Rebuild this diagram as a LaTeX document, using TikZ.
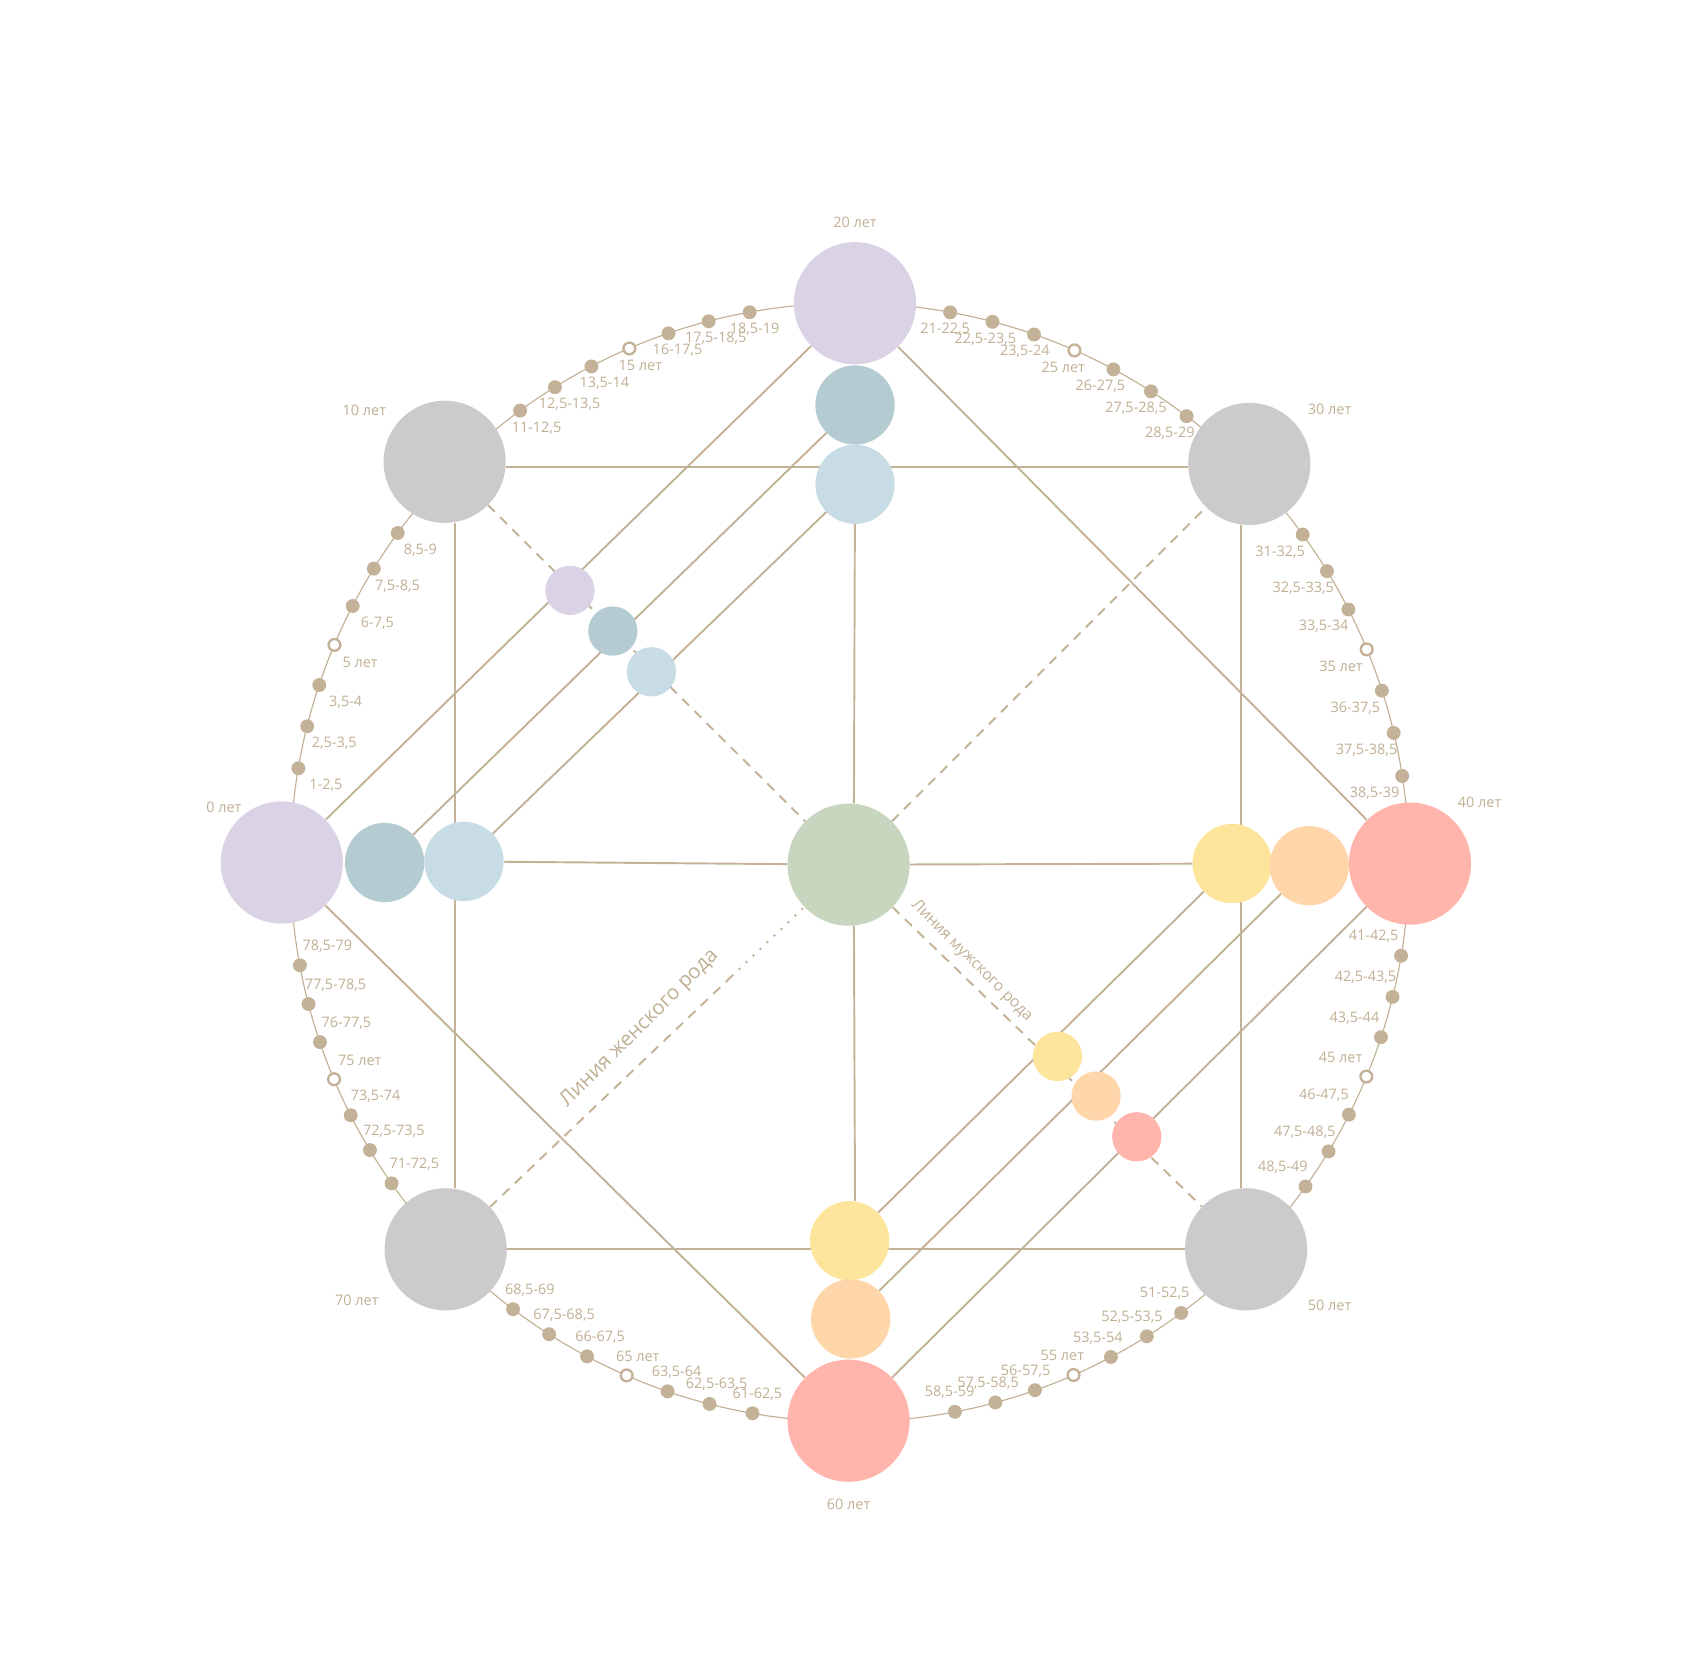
\documentclass[tikz,border=0pt]{standalone}
\usepackage{fontspec}
\setmainfont{Open Sans}
\usetikzlibrary{positioning, calc}
\definecolor{tanline}{RGB}{196,178,152}
\definecolor{tantext}{RGB}{192,175,148}
\definecolor{lavender}{RGB}{218,210,229}
\definecolor{teal}{RGB}{180,203,209}
\definecolor{lightblue}{RGB}{200,220,230}
\definecolor{greyc}{RGB}{203,203,203}
\definecolor{sage}{RGB}{200,214,192}
\definecolor{yellowc}{RGB}{254,229,156}
\definecolor{peach}{RGB}{254,214,170}
\definecolor{salmon}{RGB}{255,180,172}
\pgfdeclarelayer{back}
\pgfsetlayers{back,main}

\begin{document}
\begin{tikzpicture}[x=1pt, y=-1pt,
    bigc/.style={circle, minimum size=114pt, inner sep=0pt},
    midc/.style={circle, minimum size=74pt, inner sep=0pt},
    smallc/.style={circle, minimum size=46pt, inner sep=0pt},
    agedot/.style={circle, fill=tanline, minimum size=13pt, inner sep=0pt},
    ring/.style={circle, draw=tanline, line width=2.2pt, fill=white, minimum size=11pt, inner sep=0pt},
    agetext/.style={text=tantext, font=\fontsize{13.5}{15}\selectfont, inner sep=0pt},
    link/.style={draw=tanline, line width=1.8pt},
    lineage/.style={draw=tanline, line width=1.8pt, dash pattern=on 9pt off 7pt}
]
\useasboundingbox (0,0) rectangle (1568,1568);

% centre of the age circle
\coordinate (M) at (793,805);

% big circles
\node[bigc, fill=lavender] (A) at (263,805) {};
\node[bigc, fill=lavender] (B) at (798,283) {};
\node[bigc, fill=salmon] (C) at (1316,806) {};
\node[bigc, fill=salmon] (D) at (792,1326) {};
\node[bigc, fill=greyc] (E) at (415,431) {};
\node[bigc, fill=greyc] (F) at (1166,433) {};
\node[bigc, fill=greyc] (G) at (1163,1166) {};
\node[bigc, fill=greyc] (H) at (416,1166) {};
\node[bigc, fill=sage] (O) at (792,807) {};

% middle circles
\node[midc, fill=teal] (Lt) at (359,805) {};
\node[midc, fill=lightblue] (Lb) at (433,804) {};
\node[midc, fill=teal] (Tt) at (798,378) {};
\node[midc, fill=lightblue] (Tb) at (798,452) {};
\node[midc, fill=yellowc] (Ry) at (1150,806) {};
\node[midc, fill=peach] (Rp) at (1222,808) {};
\node[midc, fill=yellowc] (By) at (793,1158) {};
\node[midc, fill=peach] (Bp) at (794,1231) {};

% small circles on the lineage lines
\node[smallc, fill=lavender] (s1) at (532,551) {};
\node[smallc, fill=teal] (s2) at (572,589) {};
\node[smallc, fill=lightblue] (s3) at (608,627) {};
\node[smallc, fill=yellowc] (s4) at (987,986) {};
\node[smallc, fill=peach] (s5) at (1023,1023) {};
\node[smallc, fill=salmon] (s6) at (1061,1061) {};

% years at the big circles
\node[agetext, above left=6pt and -3pt of A] (a0) {0 лет};
\node[agetext, above left=2pt and 14pt of E] (a10) {10 лет};
\node[agetext, above=13pt of B] (a20) {20 лет};
\node[agetext, above right=5pt and 14pt of F] (a30) {30 лет};
\node[agetext, above right=12pt and 4pt of C] (a40) {40 лет};
\node[agetext, below right=7pt and 17pt of G] (a50) {50 лет};
\node[agetext, below=16pt of D] (a60) {60 лет};
\node[agetext, below left=2pt and 22pt of H] (a70) {70 лет};

% dots on the circle
\foreach \k/\dec/\mid/\gap in {0/{}/22.9/4.4, 1/1/21.8/4.3, 2/2/23.7/4.45, 3/3/22.6/4.5,
    4/4/22.5/4.3, 5/5/21.4/4.25, 6/6/23.5/4.5, 7/7/22.2/4.07} {
  \foreach \j/\txt in {1/{\dec1-\dec2,5}, 2/{\dec2,5-\dec3,5}, 3/{\dec3,5-\dec4}, 4/{\dec5 лет},
      5/{\dec6-\dec7,5}, 6/{\dec7,5-\dec8,5}, 7/{\dec8,5-\dec9}} {
    \pgfmathsetmacro\ang{180-45*\k-\mid-(\j-4)*\gap}
    \pgfmathsetmacro\lx{-26*cos(\ang)}
    \pgfmathsetmacro\ly{(\ang>0)*34-18}
    \ifnum\j=4
      \node[ring] (d\k\j) at ($(M)+({-\ang}:522)$) {};
    \else
      \node[agedot] (d\k\j) at ($(M)+({-\ang}:522)$) {};
    \fi
    \node[agetext] (l\k\j) at ($(d\k\j)+(\lx,\ly)$) {\txt};
  }
}

% lineage captions
\node[text=tantext, font=\fontsize{19}{22}\selectfont, rotate=45] (fem) at (597,960) {Линия женского рода};
\node[text=tantext, font=\fontsize{14.5}{17}\selectfont, rotate=-45] (mal) at (907,897) {Линия мужского рода};

\coordinate (fm) at ($(H)!0.71!(O)$);

\begin{pgfonlayer}{back}
% age circle
\draw[tanline, line width=1.1pt] (M) circle (522pt);
% square through 0-20-40-60
\draw[link] (A) -- (B);
\draw[link] (B) -- (C);
\draw[link] (C) -- (D);
\draw[link] (D) -- (A);
% square through 10-30-50-70
\draw[link] ([yshift=-5pt]E.east) -- ([yshift=-3pt]F.west);
\draw[link] ([xshift=-8pt]F.south) -- ([xshift=-5pt]G.north);
\draw[link] (G) -- (H);
\draw[link] ([xshift=9pt]H.north) -- ([xshift=10pt]E.south);
% cross through the centre
\draw[link] (Lb) -- (O);
\draw[link] (O) -- (Ry);
\draw[link] (Tb) -- ([xshift=5pt]O.north);
\draw[link] ([xshift=5pt]O.south) -- ([xshift=5pt]By.north);
% parallel lines
\draw[link] (Lt) -- (Tt);
\draw[link] (Lb) -- (Tb);
\draw[link] (Ry) -- (By);
\draw[link] (Rp) -- (Bp);
% lineage lines
\draw[lineage] (E) -- (O);
\draw[lineage] (O) -- (G);
\draw[lineage] (O) -- (F);
\draw[lineage] (H) -- (fm);
\draw[tanline, line width=1.8pt, dash pattern=on 2pt off 7pt] (fm) -- (O);
\end{pgfonlayer}

\end{tikzpicture}
\end{document}
